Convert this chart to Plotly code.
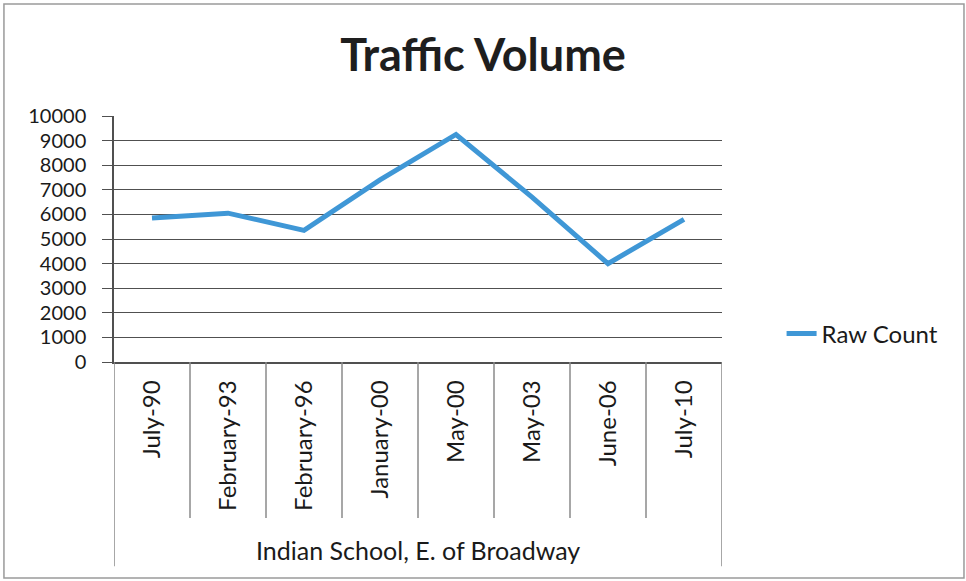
import plotly.graph_objects as go

# Traffic counts at Indian School, E. of Broadway
dates = ["July-90", "February-93", "February-96", "January-00",
         "May-00", "May-03", "June-06", "July-10"]
raw_count = [5850, 6050, 5350, 7400, 9250, 6700, 4000, 5800]
location = "Indian School, E. of Broadway"
y_ticks = list(range(0, 10001, 1000))
y_tick_text = [str(v) for v in y_ticks]

FONT = "Lato"
GRID = "#505050"
DIV = "#8a8a8a"

fig = go.Figure()
fig.add_trace(go.Scatter(
    x=dates, y=raw_count, mode="lines", name="Raw Count",
    line=dict(color="#3f97d6", width=5),
))

# category dividers below the axis and the outer group box
shapes = []
n = len(dates)
for k in range(n - 1):
    shapes.append(dict(type="line", xref="x", yref="paper",
                       x0=k + 0.5, x1=k + 0.5, y0=0, y1=-0.634,
                       line=dict(color=DIV, width=1.5)))
for xb in (-0.5, n - 0.5):
    shapes.append(dict(type="line", xref="x", yref="paper",
                       x0=xb, x1=xb, y0=0, y1=-0.83,
                       line=dict(color=DIV, width=1.5)))
# chart frame
shapes.append(dict(type="rect", xref="paper", yref="paper",
                   x0=-0.181, x1=1.398, y0=-0.878, y1=1.455,
                   line=dict(color="#9a9a9a", width=1.5)))

fig.update_layout(
    width=966, height=581,
    margin=dict(l=114, r=244, t=116, b=219),
    paper_bgcolor="white", plot_bgcolor="white",
    font=dict(family=FONT, color="#1a1a1a"),
    title=dict(text="<b>Traffic Volume</b>", x=0.5, xref="container",
               xanchor="center", y=1 - 55 / 581, yref="container",
               yanchor="middle", font=dict(size=45, family=FONT, color="#1e1e1e")),
    xaxis=dict(type="category", range=[-0.5, n - 0.5], showgrid=False,
               tickangle=-90, ticks="", ticklabelstandoff=7,
               tickfont=dict(size=24, family=FONT, color="#1a1a1a"),
               showline=True, linecolor=GRID, linewidth=1.5, zeroline=False),
    yaxis=dict(range=[0, 10000], tickvals=y_ticks, ticktext=y_tick_text,
               showgrid=True, gridcolor=GRID, gridwidth=1.2,
               ticks="outside", ticklen=10, tickcolor=GRID, tickwidth=1.2,
               showline=True, linecolor=GRID, linewidth=1.5, zeroline=False,
               ticklabelstandoff=12,
               tickfont=dict(size=20, family=FONT, color="#1a1a1a")),
    legend=dict(x=1.098, y=0.114, xanchor="left", yanchor="middle",
                font=dict(size=24, family=FONT, color="#1a1a1a"),
                bgcolor="rgba(0,0,0,0)"),
    showlegend=True,
    shapes=shapes,
    annotations=[dict(text=location, xref="paper", yref="paper",
                      x=0.5, y=-0.764, showarrow=False,
                      xanchor="center", yanchor="middle",
                      font=dict(size=25, family=FONT, color="#1a1a1a"))],
)

fig.write_html("out.html")
